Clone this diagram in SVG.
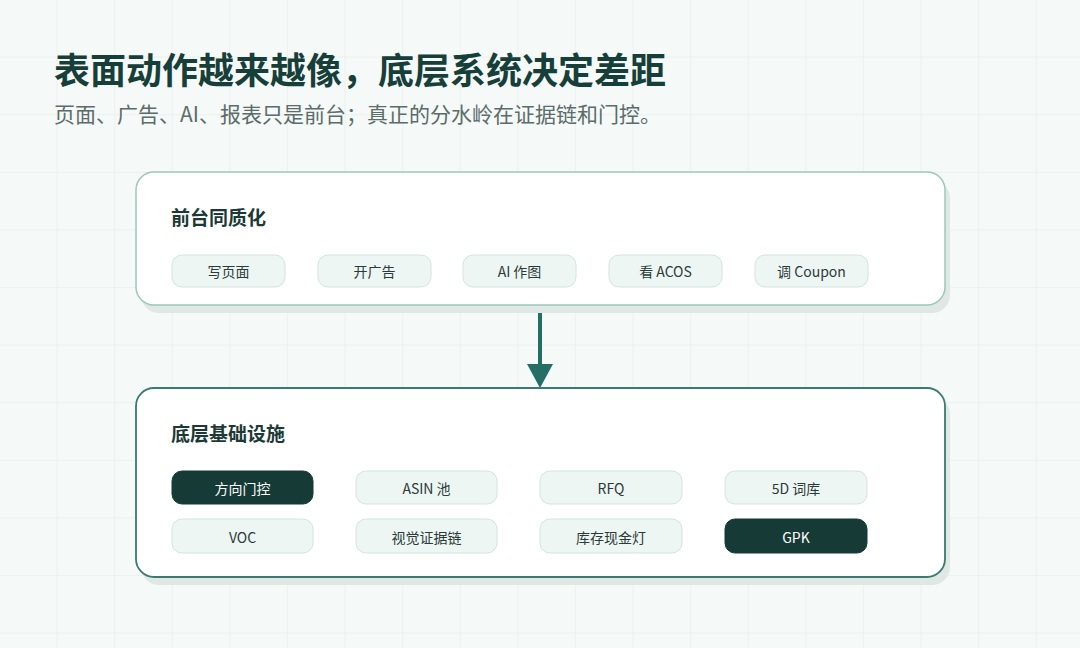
<svg xmlns="http://www.w3.org/2000/svg" width="1080" height="648" viewBox="0 0 1080 648">
<defs>
<pattern id="grid" width="57.6" height="57.6" patternUnits="userSpaceOnUse"><path d="M57.6 0V57.6M0 57.6H57.6" fill="none" stroke="#e3ece9" stroke-width="1"/></pattern>
</defs>
<style>
text{font-family:"Noto Sans CJK SC","Noto Sans",sans-serif}
.chip{fill:#eef6f4;stroke:#d3e4df;stroke-width:1}
.dark{fill:#163b37;stroke:#163b37}
.ct{font-size:14px;fill:#2a3b38;text-anchor:middle}
.dt{font-size:14px;fill:#ffffff;text-anchor:middle}
.h{font-size:19px;font-weight:700;fill:#1b3a36}
</style>
<rect width="1080" height="648" fill="#f5f9f8"/>
<rect width="1080" height="648" fill="url(#grid)"/>
<text x="54" y="84" font-size="36" font-weight="700" fill="#173f3a">表面动作越来越像，底层系统决定差距</text>
<text x="54" y="122" font-size="21" fill="#5b6c69">页面、广告、AI、报表只是前台；真正的分水岭在证据链和门控。</text>
<g id="connectors"><line x1="540" y1="305" x2="540" y2="366" stroke="#246e66" stroke-width="4"/><path d="M527 364H553L540 388Z" fill="#246e66"/></g>
<g id="front">
<rect x="141" y="180" width="809" height="133" rx="18" fill="#dfe8e5"/>
<rect x="136" y="172" width="809" height="133" rx="18" fill="#ffffff" stroke="#9cc7bd" stroke-width="1.5"/>
<text x="171" y="225" class="h">前台同质化</text>
<rect class="chip" x="172" y="255" width="113" height="32" rx="10"/><text class="ct" x="228.5" y="277">写页面</text>
<rect class="chip" x="318" y="255" width="113" height="32" rx="10"/><text class="ct" x="374.5" y="277">开广告</text>
<rect class="chip" x="463" y="255" width="113" height="32" rx="10"/><text class="ct" x="519.5" y="277">AI 作图</text>
<rect class="chip" x="609" y="255" width="113" height="32" rx="10"/><text class="ct" x="665.5" y="277">看 ACOS</text>
<rect class="chip" x="755" y="255" width="113" height="32" rx="10"/><text class="ct" x="811.5" y="277">调 Coupon</text>
</g>
<g id="infra">
<rect x="141" y="396" width="809" height="189" rx="18" fill="#dfe8e5"/>
<rect x="136" y="388" width="809" height="189" rx="18" fill="#ffffff" stroke="#3a7a70" stroke-width="1.8"/>
<text x="171" y="441" class="h">底层基础设施</text>
<rect class="dark" x="172" y="471" width="141" height="33" rx="10"/><text class="dt" x="242.5" y="494">方向门控</text>
<rect class="chip" x="356" y="471" width="141" height="33" rx="10"/><text class="ct" x="426.5" y="494">ASIN 池</text>
<rect class="chip" x="540" y="471" width="142" height="33" rx="10"/><text class="ct" x="611" y="494">RFQ</text>
<rect class="chip" x="725" y="471" width="142" height="33" rx="10"/><text class="ct" x="796" y="494">5D 词库</text>
<rect class="chip" x="172" y="519" width="141" height="34" rx="10"/><text class="ct" x="242.5" y="543">VOC</text>
<rect class="chip" x="356" y="519" width="141" height="34" rx="10"/><text class="ct" x="426.5" y="543">视觉证据链</text>
<rect class="chip" x="540" y="519" width="142" height="34" rx="10"/><text class="ct" x="611" y="543">库存现金灯</text>
<rect class="dark" x="725" y="519" width="142" height="34" rx="10"/><text class="dt" x="796" y="543">GPK</text>
</g>
</svg>
